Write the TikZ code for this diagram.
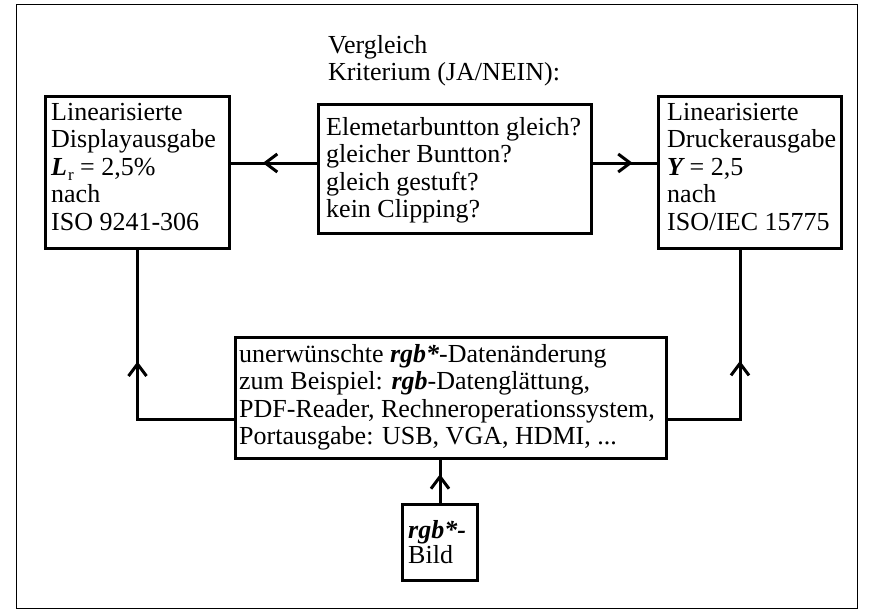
\documentclass[tikz,border=0pt]{standalone}
\usepackage{fontspec}
\setmainfont{Liberation Serif}
\usetikzlibrary{arrows.meta,decorations.markings}
\newcommand{\bi}[1]{{\bfseries\itshape #1}}
\begin{document}
\begin{tikzpicture}[x=1pt,y=-1pt,
  box/.style={draw,line width=3pt,inner sep=0pt,anchor=north west},
  txt/.style={anchor=base west,inner sep=0pt,font=\fontsize{26}{27.6}\selectfont},
  conn/.style={line width=3pt},
  midarr/.style={postaction={decorate},decoration={markings,
    mark=at position #1 with {\arrow{Straight Barb[length=12pt,width=18pt]}}}}]
\useasboundingbox (0,0) rectangle (869,610);
\draw[line width=1pt] (16,5) rectangle (857,608);
% boxes
\node[box,minimum width=184pt,minimum height=152pt] (A) at (44,95) {};
\node[box,minimum width=183pt,minimum height=152pt] (B) at (657,95) {};
\node[box,minimum width=273pt,minimum height=129pt] (C) at (317,103) {};
\node[box,minimum width=431pt,minimum height=121pt] (D) at (234,336) {};
\node[box,minimum width=75pt,minimum height=76pt] (E) at (401,503) {};
% texts
\node[txt] (tv) at (328,53) {\begin{tabular}[t]{@{}l@{}}Vergleich\\Kriterium (JA/NEIN):\end{tabular}};
\node[txt] (ta) at (51,120) {\begin{tabular}[t]{@{}l@{}}Linearisierte\\Displayausgabe\\\bi{L}\kern1pt\raisebox{-0.22em}{\fontsize{17}{17}\selectfont r} = 2,5\%\\nach\\ISO 9241-306\end{tabular}};
\node[txt] (tb) at (667,120) {\begin{tabular}[t]{@{}l@{}}Linearisierte\\Druckerausgabe\\\bi{Y} = 2,5\\nach\\ISO/IEC 15775\end{tabular}};
\node[txt] (tc) at (326,135) {\begin{tabular}[t]{@{}l@{}}Elemetarbuntton gleich?\\gleicher Buntton?\\gleich gestuft?\\kein Clipping?\end{tabular}};
\node[txt] (td) at (239,362) {\begin{tabular}[t]{@{}l@{}}unerwünschte \bi{rgb*}-Datenänderung\\zum Beispiel: \bi{rgb}-Datenglättung,\\PDF-Reader, Rechneroperationssystem,\\Portausgabe: USB, VGA, HDMI, ...\end{tabular}};
\node[txt] (te) at (408,538) {\begin{tabular}[t]{@{}l@{}}\bi{rgb*-}\\[-2pt]Bild\end{tabular}};
% helper coordinates
\coordinate (yh) at (0,163);
\coordinate (yl) at (0,419);
\coordinate (xr) at (740,0);
% connectors
\draw[conn,midarr=0.63] (yh -| C.west) -- (yh -| A.east);
\draw[conn,midarr=0.62] (yh -| C.east) -- (yh -| B.west);
\draw[conn,midarr=0.58] (yl -| D.west) -| (A.south);
\draw[conn,midarr=0.54] (yl -| D.east) -| (xr |- B.south);
\draw[conn,midarr=0.67] (E.north) -- (E.north |- D.south);
\end{tikzpicture}
\end{document}
